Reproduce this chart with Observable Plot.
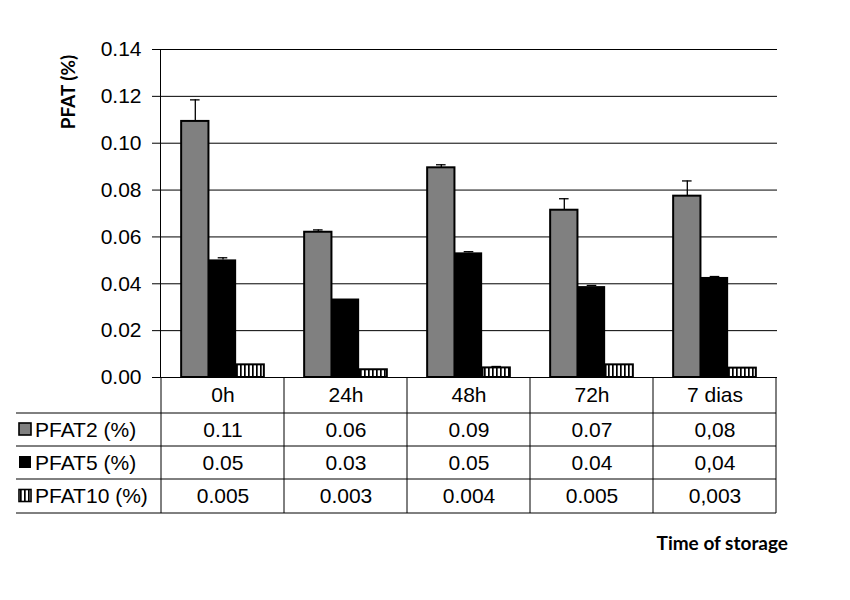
<!DOCTYPE html>
<html><head><meta charset="utf-8">
<script src="https://cdn.jsdelivr.net/npm/d3@7"></script>
<script src="https://cdn.jsdelivr.net/npm/@observablehq/plot@0.6"></script>
<style>body{margin:0;background:#fff}</style>
</head><body><div id="chart"></div>
<script>
// ---- data ----
const categories = ["0h", "24h", "48h", "72h", "7 dias"];
const seriesNames = ["PFAT2 (%)", "PFAT5 (%)", "PFAT10 (%)"];
const pfat2 = [0.1093, 0.0620, 0.0895, 0.0714, 0.0774];
const pfat2Err = [0.0092, 0.0010, 0.0013, 0.0049, 0.0065];
const pfat5 = [0.0502, 0.0335, 0.0532, 0.0388, 0.0427];
const pfat5Err = [0.0009, 0, 0.0005, 0.0005, 0.0004];
const pfat10 = [0.0054, 0.0033, 0.0041, 0.0054, 0.0040];
const pfat10Err = [0, 0, 0.0006, 0, 0];
const pfat2Labels = ["0.11", "0.06", "0.09", "0.07", "0,08"];
const pfat5Labels = ["0.05", "0.03", "0.05", "0.04", "0,04"];
const pfat10Labels = ["0.005", "0.003", "0.004", "0.005", "0,003"];
const yTicks = [0, 0.02, 0.04, 0.06, 0.08, 0.10, 0.12, 0.14];
const yTitle = "PFAT (%)";
const xTitle = "Time of storage";

// ---- layout ----
const W = 850, H = 600, mL = 160, mR = 73, mT = 49, mB = 223;
const step = (W - mL - mR) / categories.length;
const bw = 27.7;
const gOff = (step - 3 * bw) / 2;
const fills = ["#808080", "#000000", "url(#stripes)"];
const FONT = "'Liberation Sans', Arial, sans-serif";
const TITLEFONT = "Lato, 'Open Sans', sans-serif";
const FS = 21;

const values = [pfat2, pfat5, pfat10];
const errs = [pfat2Err, pfat5Err, pfat10Err];
const labels = [pfat2Labels, pfat5Labels, pfat10Labels];
const seriesRows = values.map((vals, s) => categories.map((c, i) => ({cat: c, value: vals[i], err: errs[s][i], label: labels[s][i]})));

const marks = [Plot.ruleY(yTicks, {stroke: "#000", strokeWidth: 1})];
seriesRows.forEach((rows, s) => {
  const center = gOff + (s + 0.5) * bw;
  marks.push(Plot.barY(rows, {
    x: "cat", y: "value", fill: fills[s], stroke: "#000", strokeWidth: s === 1 ? 0 : 2,
    insetLeft: gOff + s * bw, insetRight: step - gOff - (s + 1) * bw
  }));
  const withErr = rows.filter(d => d.err > 0);
  marks.push(Plot.ruleX(withErr, {x: "cat", y1: "value", y2: d => d.value + d.err, dx: center - step / 2, stroke: "#000", strokeWidth: 1.3}));
  marks.push(Plot.tickY(withErr, {x: "cat", y: d => d.value + d.err, insetLeft: center - 5, insetRight: step - center - 5, stroke: "#000", strokeWidth: 1.3}));
});
// table header + values
marks.push(Plot.text(categories, {x: d => d, frameAnchor: "bottom", lineAnchor: "middle", dy: 18, fill: "#000", fontSize: FS}));
const rowDy = [52.5, 85.5, 119];
seriesRows.forEach((rows, s) => {
  marks.push(Plot.text(rows, {x: "cat", text: "label", frameAnchor: "bottom", lineAnchor: "middle", dy: rowDy[s], fill: "#000", fontSize: FS}));
});

const chart = Plot.plot({
  width: W, height: H,
  marginLeft: mL, marginRight: mR, marginTop: mT, marginBottom: mB,
  style: {fontFamily: FONT, fontSize: FS + "px", color: "#000", background: "#fff"},
  x: {domain: categories, padding: 0, axis: null},
  y: {domain: [0, 0.14], ticks: yTicks, tickFormat: d3.format(".2f"), tickSize: 8, tickPadding: 11, label: null, line: true},
  marks
});
document.getElementById("chart").appendChild(chart);

// ---- extras: pattern, table grid, legend keys, titles ----
const svg = d3.select(chart);
const defs = svg.append("defs");
const pat = defs.append("pattern").attr("id", "stripes").attr("patternUnits", "userSpaceOnUse")
  .attr("width", 4).attr("height", 4);
pat.append("rect").attr("width", 4).attr("height", 4).attr("fill", "#fff");
pat.append("rect").attr("x", 0).attr("width", 1.7).attr("height", 4).attr("fill", "#000");

const xs = chart.scale("x");
const ys = chart.scale("y");
const y0 = ys.apply(0);
const rowLines = [36, 69, 102, 136].map(d => y0 + d);
const g = svg.append("g").attr("stroke", "#000").attr("stroke-width", 1);
rowLines.forEach(yy => g.append("line").attr("x1", 16).attr("x2", xs.apply(categories[categories.length - 1]) + xs.bandwidth).attr("y1", yy).attr("y2", yy));
const vxs = categories.map(c => xs.apply(c)).concat([xs.apply(categories[categories.length - 1]) + xs.bandwidth]);
vxs.forEach(xx => g.append("line").attr("x1", xx).attr("x2", xx).attr("y1", y0).attr("y2", rowLines[3]));

const rowCenters = [rowLines[0], rowLines[1], rowLines[2]].map((t, i) => (t + rowLines[i + 1]) / 2);
seriesNames.forEach((name, s) => {
  const cy = rowCenters[s];
  svg.append("rect").attr("x", 19).attr("y", cy - 6.5).attr("width", 12).attr("height", 12)
    .attr("fill", fills[s]).attr("stroke", "#000").attr("stroke-width", s === 1 ? 0 : 1.6);
  svg.append("text").attr("x", 35).attr("y", cy).attr("dy", "0.35em").attr("text-anchor", "start")
    .attr("font-family", FONT).attr("font-size", FS).attr("fill", "#000").text(name);
});

svg.append("text").attr("transform", "translate(75,92) rotate(-90)").attr("text-anchor", "middle")
  .attr("font-family", TITLEFONT).attr("font-weight", "bold").attr("font-size", 19).attr("fill", "#000").text(yTitle);
svg.append("text").attr("x", 788).attr("y", 550).attr("text-anchor", "end")
  .attr("font-family", TITLEFONT).attr("font-weight", "bold").attr("font-size", 19).attr("fill", "#000").text(xTitle);
</script></body></html>
